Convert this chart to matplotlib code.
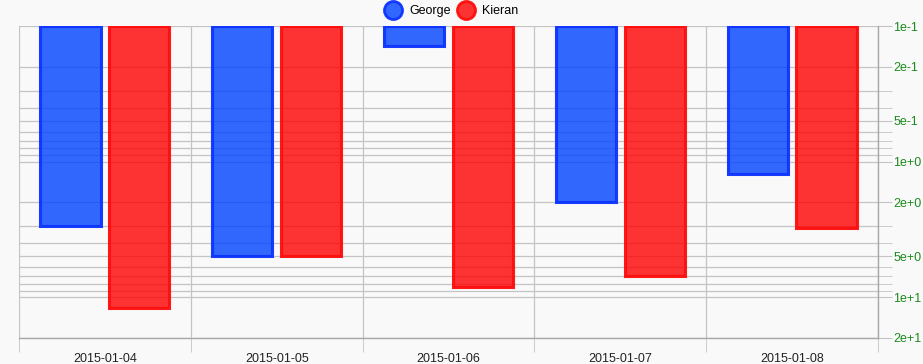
import numpy as np
import matplotlib.pyplot as plt
from matplotlib.lines import Line2D
from matplotlib.ticker import FixedLocator, NullFormatter

plt.rcParams['font.family'] = ['Liberation Sans', 'DejaVu Sans']

dates = ["2015-01-04", "2015-01-05", "2015-01-06", "2015-01-07", "2015-01-08"]
george = [3.0, 5.0, 0.14, 2.0, 1.24]
kieran = [12.0, 5.0, 8.4, 7.0, 3.1]
base = 0.1

major_ticks = [0.1, 0.2, 0.5, 1, 2, 5, 10, 20]
major_labels = ["1e-1", "2e-1", "5e-1", "1e+0", "2e+0", "5e+0", "1e+1", "2e+1"]
minor_ticks = [0.3, 0.4, 0.6, 0.7, 0.8, 0.9, 3, 4, 6, 7, 8, 9]

bg = "#f9f9f9"
grid_c = "#c4c4c4"
blue_face = (0.0, 0.26, 1.0, 0.8)
blue_edge = (0.05, 0.2, 1.0, 0.95)
red_face = (1.0, 0.0, 0.0, 0.8)
red_edge = (1.0, 0.05, 0.05, 0.95)

def main():
    fig = plt.figure(figsize=(9.23, 3.64), dpi=100, facecolor=bg)
    ax = fig.add_axes([19/923, 26/364, (878-19)/923, (338-26)/364])
    ax.set_facecolor(bg)

    x = np.arange(len(dates))
    w = 0.35
    ax.bar(x - 0.2, np.array(george) - base, bottom=base, width=w,
           color=blue_face, edgecolor=blue_edge, linewidth=2.2, zorder=3)
    ax.bar(x + 0.2, np.array(kieran) - base, bottom=base, width=w,
           color=red_face, edgecolor=red_edge, linewidth=2.2, zorder=3)

    ax.set_yscale("log")
    ax.set_ylim(20, 0.1)
    ax.set_xlim(-0.5, len(dates) - 0.5)

    ax.yaxis.tick_right()
    ax.yaxis.set_major_locator(FixedLocator(major_ticks))
    ax.yaxis.set_minor_locator(FixedLocator(minor_ticks))
    ax.set_yticklabels(major_labels)
    ax.yaxis.set_minor_formatter(NullFormatter())
    ax.tick_params(axis="y", which="both", length=10, color=grid_c,
                   labelcolor="#1a8a1a", labelsize=9, pad=1)

    ax.set_xticks(x)
    ax.set_xticklabels(dates)
    ax.set_xticks(np.arange(len(dates) + 1) - 0.5, minor=True)
    ax.tick_params(axis="x", which="major", length=0, labelsize=9,
                   labelcolor="#222222", pad=11)
    ax.tick_params(axis="x", which="minor", length=10, color=grid_c)

    ax.grid(True, axis="y", which="both", color=grid_c, linewidth=0.9, zorder=0)
    ax.grid(True, axis="x", which="minor", color=grid_c, linewidth=0.9, zorder=0)
    ax.grid(False, axis="x", which="major")

    for s in ["top", "left"]:
        ax.spines[s].set_visible(False)
    for s in ["bottom", "right"]:
        ax.spines[s].set_color("#a8a8a8")
        ax.spines[s].set_linewidth(1.0)

    handles = [
        Line2D([], [], marker="o", linestyle="", markersize=13,
               markerfacecolor=blue_face, markeredgecolor=blue_edge, markeredgewidth=2),
        Line2D([], [], marker="o", linestyle="", markersize=13,
               markerfacecolor=red_face, markeredgecolor=red_edge, markeredgewidth=2),
    ]
    fig.legend(handles, ["George", "Kieran"], loc="center", bbox_to_anchor=(452/923, 1 - 11/364),
               ncol=2, frameon=False, fontsize=9, handletextpad=0.7, columnspacing=0.6,
               handlelength=1.2, borderpad=0.1)

    fig.savefig("out.png", dpi=100, facecolor=bg)

if __name__ == "__main__":
    main()
